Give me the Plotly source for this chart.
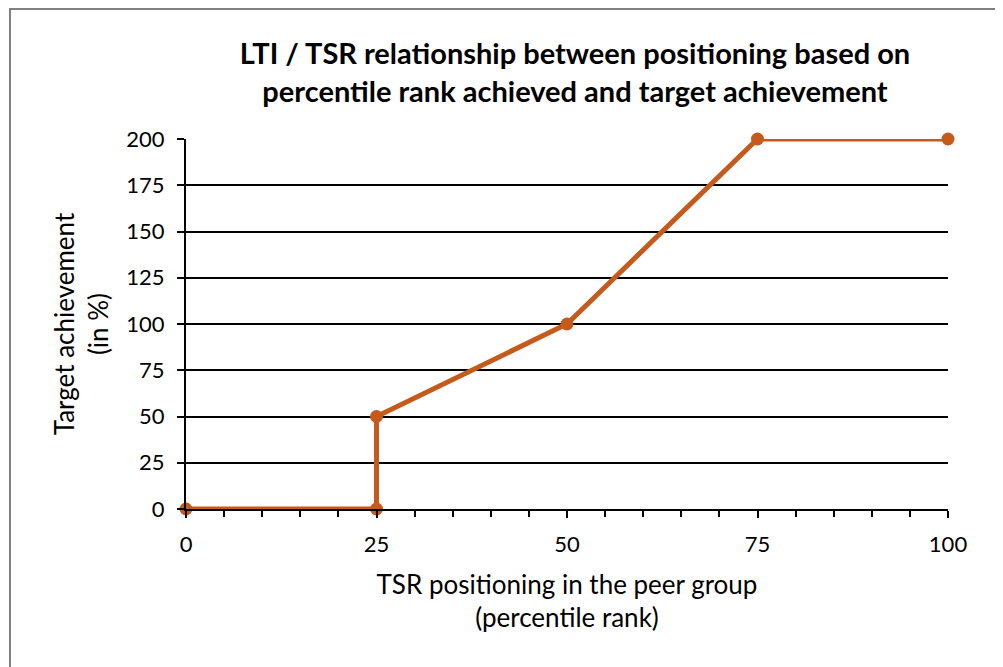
import plotly.graph_objects as go

percentile_rank = [0, 25, 25, 50, 75, 100]
target_achievement = [0, 0, 50, 100, 200, 200]
x_ticks = [0, 25, 50, 75, 100]
y_ticks = [0, 25, 50, 75, 100, 125, 150, 175, 200]

color = "#C55A1B"
OFF = 8  # page body margin
W, H = 1003 - OFF, 667 - OFF
L, T = 186 - OFF, 139 - OFF
pw, ph = 762, 370
R = W - L - pw
B = H - T - ph

def px(x):
    return (x - OFF - L) / pw

def py(y):
    return (T + ph - (y - OFF)) / ph

fig = go.Figure()
fig.add_trace(go.Scatter(
    x=percentile_rank, y=target_achievement, mode="lines+markers",
    line=dict(color=color, width=5),
    marker=dict(color=color, size=13),
    cliponaxis=False, showlegend=False,
))

font = "Lato, Carlito, Calibri, sans-serif"
fig.update_layout(
    width=W, height=H,
    margin=dict(l=L, r=R, t=T, b=B),
    paper_bgcolor="white", plot_bgcolor="white",
    font=dict(family=font, color="#000000", size=22),
    title=dict(
        text="<b>LTI / TSR relationship between positioning based on<br>percentile rank achieved and target achievement</b>",
        xref="container", x=(575 - OFF) / W, xanchor="center",
        y=1 - 56 / H, yanchor="middle",
        font=dict(size=29, family=font),
    ),
    xaxis=dict(
        range=[0, 100], tickvals=x_ticks, showgrid=False, zeroline=False,
        showline=True, linecolor="black", linewidth=2,
        ticks="outside", ticklen=7, tickwidth=2, tickcolor="black",
        minor=dict(dtick=5, ticks="outside", ticklen=6, tickwidth=2, tickcolor="black", showgrid=False),
        tickfont=dict(size=22), ticklabelstandoff=8,
        title=dict(text="TSR positioning in the peer group<br>(percentile rank)", font=dict(size=26), standoff=19),
    ),
    yaxis=dict(
        range=[0, 200], tickvals=y_ticks, showgrid=True, gridcolor="black", gridwidth=1.5,
        zeroline=False, showline=True, linecolor="black", linewidth=2,
        ticks="outside", ticklen=7, tickwidth=1.5, tickcolor="black",
        tickfont=dict(size=22), ticklabelstandoff=8,
        title=dict(text="Target achievement<br>(in %)", font=dict(size=26), standoff=10),
    ),
    shapes=[dict(
        type="rect", xref="paper", yref="paper",
        x0=px(10), x1=px(999), y0=py(OFF + 1), y1=py(700),
        line=dict(color="#808080", width=2), fillcolor="rgba(0,0,0,0)", layer="below",
    )],
)

fig.write_html("out.html")
